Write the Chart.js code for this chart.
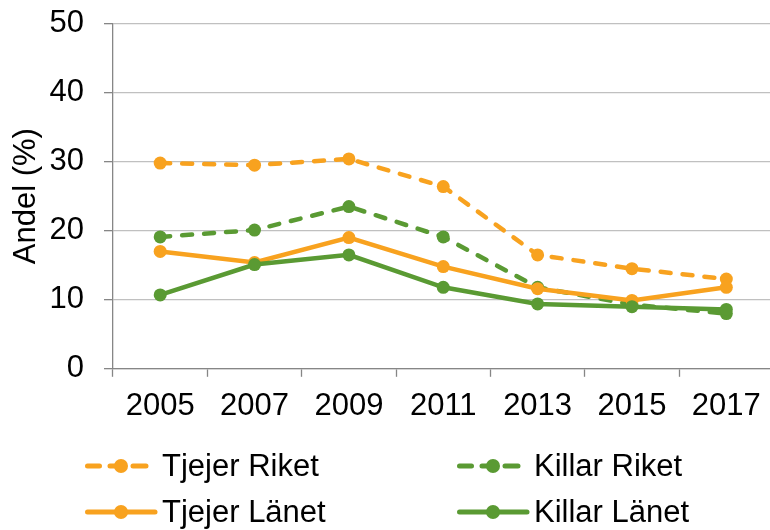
<!DOCTYPE html>
<html>
<head>
<meta charset="utf-8">
<script src="https://cdn.jsdelivr.net/npm/chart.js@4/dist/chart.umd.min.js"></script>
<style>
  html, body { margin: 0; padding: 0; background: #fff; overflow: hidden; }
  #wrap { position: relative; width: 780px; height: 545px; margin-top: -15px; }
</style>
</head>
<body>
<div id="wrap"><canvas id="grafico"></canvas></div>
<script>
const years = ["2005", "2007", "2009", "2011", "2013", "2015", "2017"];

const tjejerRiket = [29.8, 29.5, 30.4, 26.4, 16.5, 14.5, 13.0];
const killarRiket = [19.1, 20.1, 23.5, 19.1, 11.8, 9.3, 8.0];
const tjejerLanet = [17.0, 15.4, 19.0, 14.8, 11.6, 9.9, 11.8];
const killarLanet = [10.7, 15.1, 16.5, 11.8, 9.4, 9.0, 8.6];

const yTicks = [0, 10, 20, 30, 40, 50];

const ORANGE = "#F8A21F";
const GREEN = "#5A9A33";
const FONT = "'Liberation Sans', Arial, sans-serif";
const FS = 31;

function serie(label, data, color, dashed, order){
  return {
    label: label,
    data: data,
    borderColor: color,
    backgroundColor: color,
    borderWidth: 4.5,
    borderDash: dashed ? [10, 12] : [],
    borderCapStyle: "round",
    pointRadius: 6.5,
    pointHoverRadius: 6.5,
    pointBorderWidth: 0,
    pointBackgroundColor: color,
    tension: 0,
    order: order
  };
}

// legend by hand: 2 x 2, line with dot in the middle
// (canvas sits 15px higher than the page, hence the row values)
const legenda = {
  id: "legenda",
  afterDraw(chart){
    const ctx = chart.ctx;
    const cols = [85, 457];
    const rows = [481, 527];
    chart.data.datasets.forEach((ds, i) => {
      const x = cols[i % 2];
      const y = rows[Math.floor(i / 2)];
      const dashed = ds.borderDash.length > 0;
      ctx.save();
      ctx.strokeStyle = ds.borderColor;
      ctx.lineWidth = 5;
      ctx.lineCap = "round";
      ctx.beginPath();
      if (dashed) {
        ctx.moveTo(x + 2.5, y); ctx.lineTo(x + 14.5, y);
        ctx.moveTo(x + 25, y); ctx.lineTo(x + 36, y);
        ctx.moveTo(x + 48, y); ctx.lineTo(x + 61, y);
      } else {
        ctx.moveTo(x + 2.5, y); ctx.lineTo(x + 70, y);
      }
      ctx.stroke();
      ctx.fillStyle = ds.borderColor;
      ctx.beginPath();
      ctx.arc(x + 36, y, 7, 0, Math.PI * 2);
      ctx.fill();
      ctx.fillStyle = "#000";
      ctx.font = FS + "px " + FONT;
      ctx.textBaseline = "middle";
      ctx.textAlign = "left";
      ctx.fillText(ds.label, x + 77, y + 1);
      ctx.restore();
    });
  }
};

new Chart(document.getElementById("grafico"), {
  type: "line",
  data: {
    labels: years,
    datasets: [
      serie("Tjejer Riket", tjejerRiket, ORANGE, true, 4),
      serie("Killar Riket", killarRiket, GREEN, true, 3),
      serie("Tjejer Länet", tjejerLanet, ORANGE, false, 2),
      serie("Killar Länet", killarLanet, GREEN, false, 1)
    ]
  },
  options: {
    responsive: true,
    maintainAspectRatio: false,
    animation: false,
    events: [],
    layout: { padding: { top: 0, right: 0, bottom: 93, left: 8 } },
    plugins: {
      legend: { display: false },
      tooltip: { enabled: false }
    },
    scales: {
      x: {
        offset: true,
        grid: {
          drawOnChartArea: false,
          offset: true,
          tickLength: 8,
          tickColor: "#868686",
          tickWidth: 1.3
        },
        border: { color: "#868686", width: 1.3 },
        ticks: {
          color: "#000",
          padding: 11.5,
          font: { family: FONT, size: FS },
          maxRotation: 0,
          autoSkip: false
        }
      },
      y: {
        min: 0,
        max: 50,
        afterBuildTicks: (scale) => { scale.ticks = yTicks.map(v => ({ value: v })); },
        afterFit: (scale) => { scale.width = 105; },
        grid: {
          color: "#c0c0c0",
          lineWidth: 1.3,
          tickLength: 9,
          tickColor: "#868686"
        },
        border: { color: "#868686", width: 1.3 },
        ticks: {
          color: "#000",
          padding: 20,
          font: { family: FONT, size: FS }
        },
        title: {
          display: true,
          text: "Andel (%)",
          color: "#000",
          font: { family: FONT, size: FS },
          padding: { top: 0, bottom: 4.5 }
        }
      }
    }
  },
  plugins: [legenda]
});
</script>
</body>
</html>
